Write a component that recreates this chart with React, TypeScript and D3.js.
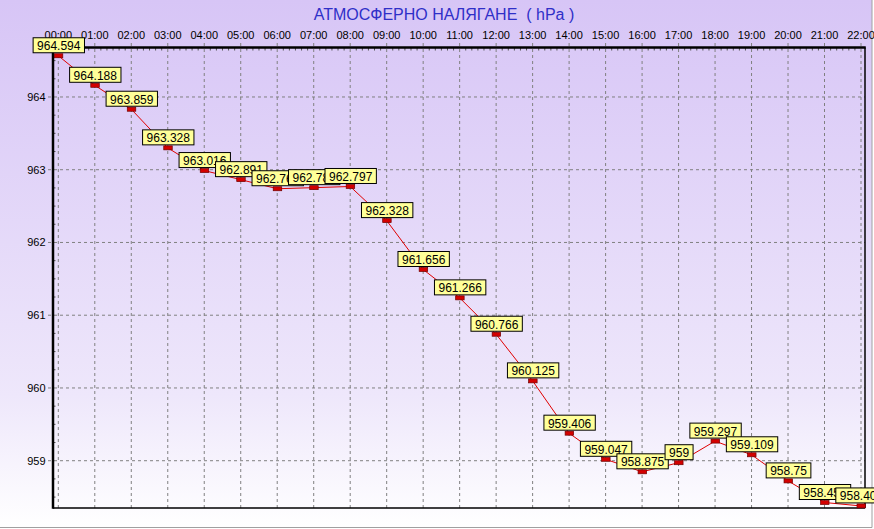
import React from 'react';
import * as d3 from 'd3';

const hours = ['00:00','01:00','02:00','03:00','04:00','05:00','06:00','07:00','08:00','09:00','10:00','11:00','12:00','13:00','14:00','15:00','16:00','17:00','18:00','19:00','20:00','21:00','22:00'];
const pressure = [964.594, 964.188, 963.859, 963.328, 963.016, 962.891, 962.766, 962.781, 962.797, 962.328, 961.656, 961.266, 960.766, 960.125, 959.406, 959.047, 958.875, 959, 959.297, 959.109, 958.75, 958.453, 958.406];
const yTicks = [959, 960, 961, 962, 963, 964];
const title = 'АТМОСФЕРНО НАЛЯГАНЕ  ( hPa )';

const W = 874, H = 529;
const L = 53, T = 47.5, R = 865, B = 508;
const FONT = '"Liberation Sans", Arial, sans-serif';

function textW(s: string, size: number) {
  let w = 0;
  for (const c of s) w += (c === '.' ? 0.278 : 0.556) * size;
  return w;
}

export default function App() {
  const x = d3.scalePoint<string>().domain(hours).range([58.3, 861]);
  const y = d3.scaleLinear().domain([958.35, 964.68]).range([B, T]);
  const minorY = d3.range(958.5, 964.68, 0.25).filter(v => Math.abs(v - Math.round(v)) > 0.01);
  const step = x.step();
  const minorX: number[] = [];
  for (let i = 0; i < hours.length; i++) {
    for (let k = 1; k < 6; k++) {
      const px = (x(hours[i]) as number) + (k * step) / 6;
      if (px < R) minorX.push(px);
    }
  }
  const pts = hours.map((h, i) => [x(h) as number, y(pressure[i]) + 2] as [number, number]);
  const line = d3.line()(pts) || '';

  return (
    <svg width={W} height={H} style={{ position: 'absolute', left: 0, top: 0 }} fontFamily={FONT}>
      <defs>
        <linearGradient id="bg" x1="0" y1="0" x2="0" y2="1">
          <stop offset="0" stopColor="#d7c5f6" />
          <stop offset="0.75" stopColor="#eee7fb" />
          <stop offset="1" stopColor="#ffffff" />
        </linearGradient>
      </defs>
      <rect x={0} y={0} width={W} height={H} fill="#ffffff" />
      <rect x={0} y={0} width={872} height={527} fill="url(#bg)" />
      <line x1={872} y1={0} x2={872} y2={527.5} stroke="#a0a0a0" strokeWidth={1} />
      <line x1={0} y1={527.5} x2={872} y2={527.5} stroke="#a0a0a0" strokeWidth={1} />

      <text x={444} y={20} textAnchor="middle" fontSize={16} fill="#2f2fc8" style={{ whiteSpace: 'pre' }}>{title}</text>

      {hours.map(h => (
        <line key={'vg' + h} x1={x(h)} x2={x(h)} y1={43} y2={B} stroke="#808080" strokeWidth={1} strokeDasharray="3,3" />
      ))}
      {yTicks.map(v => (
        <line key={'hg' + v} x1={48} x2={R} y1={y(v)} y2={y(v)} stroke="#808080" strokeWidth={1} strokeDasharray="3,3" />
      ))}
      {minorY.map(v => (
        <line key={'my' + v} x1={L} x2={L + 2.5} y1={y(v)} y2={y(v)} stroke="#555" strokeWidth={1} />
      ))}
      {minorX.map((px, i) => (
        <line key={'mx' + i} x1={px} x2={px} y1={T} y2={T + 3} stroke="#555" strokeWidth={1} />
      ))}

      <line x1={R} x2={R} y1={T} y2={B} stroke="#000" strokeWidth={1.5} />
      <line x1={L} x2={R} y1={B} y2={B} stroke="#000" strokeWidth={1.5} />
      <line x1={L} x2={R + 0.75} y1={T} y2={T} stroke="#000" strokeWidth={2.5} />
      <line x1={L} x2={L} y1={T - 1} y2={B + 0.75} stroke="#000" strokeWidth={2.5} />

      {hours.map(h => (
        <text key={'xl' + h} x={x(h)} y={39} textAnchor="middle" fontSize={11} fill="#000">{h}</text>
      ))}
      {yTicks.map(v => (
        <text key={'yl' + v} x={45.5} y={y(v) + 4} textAnchor="end" fontSize={11} fill="#000">{v}</text>
      ))}

      <path d={line} fill="none" stroke="#e00000" strokeWidth={1} />

      {hours.map((h, i) => {
        const px = x(h) as number;
        const py = y(pressure[i]);
        const s = String(pressure[i]);
        const bw = textW(s, 12) + 8;
        return (
          <g key={'lb' + h}>
            <rect x={px - bw / 2 + 0.5} y={py - 16} width={bw} height={15} fill="#ffff99" stroke="#000" strokeWidth={1} />
            <text x={px + 0.5} y={py - 3.5} textAnchor="middle" fontSize={12} fill="#000">{s}</text>
          </g>
        );
      })}
      {hours.map((h, i) => {
        const px = x(h) as number;
        const py = y(pressure[i]);
        return (
          <rect key={'mk' + h} x={px - 4} y={py} width={8.5} height={4} fill="#d40000" stroke="#700000" strokeWidth={0.7} />
        );
      })}
    </svg>
  );
}
